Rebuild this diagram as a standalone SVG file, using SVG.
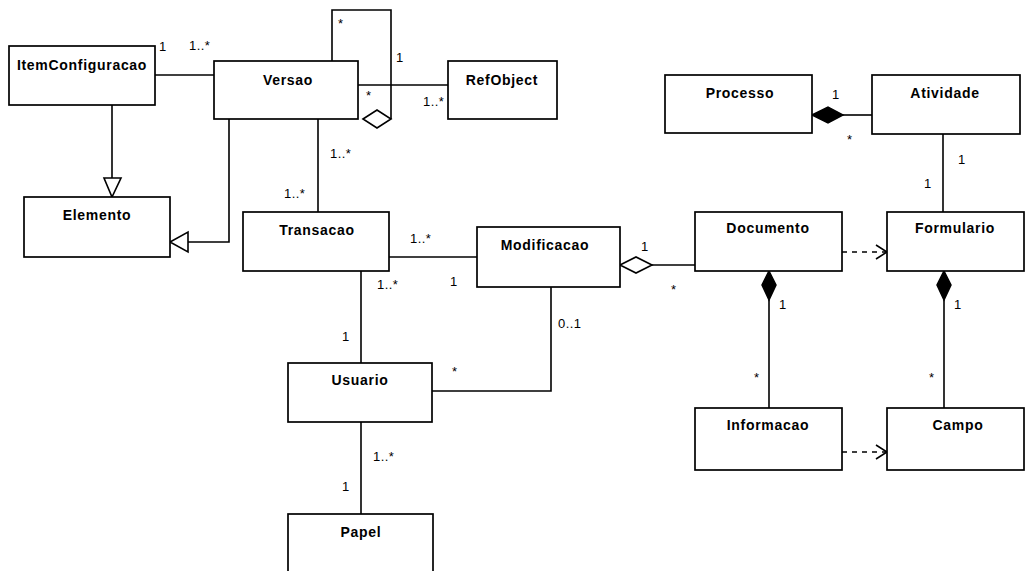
<svg xmlns="http://www.w3.org/2000/svg" width="1029" height="571" viewBox="0 0 1029 571">
  <style>
    .box { fill: #fff; stroke: #000; stroke-width: 1.7; }
    .name { font-family: "Liberation Sans", Arial, sans-serif; font-size: 14px; font-weight: bold; text-anchor: middle; letter-spacing: 0.7px; fill: #000; }
    .edge { fill: none; stroke: #000; stroke-width: 1.6; }
    .dash { fill: none; stroke: #000; stroke-width: 1.5; stroke-dasharray: 5 5; }
    .hollow { fill: #fff; stroke: #000; stroke-width: 1.6; }
    .solid { fill: #000; stroke: #000; stroke-width: 1.5; }
    .mult { font-family: "Liberation Sans", Arial, sans-serif; font-size: 13px; letter-spacing: 0.4px; fill: #000; }
  </style>
  <rect width="1029" height="571" fill="#fff"/>

  <!-- associations, generalizations and dependencies -->
  <g id="connectors">
    <!-- ItemConfiguracao - Versao -->
    <line class="edge" x1="155" y1="75" x2="214" y2="75"/>
    <text class="mult" x="159" y="51">1</text>
    <text class="mult" x="189" y="50">1..*</text>

    <!-- Versao self aggregation -->
    <polyline class="edge" points="332,61 332,10 391,10 391,119"/>
    <polygon class="hollow" points="363,119 377,110 391,119 377,128"/>
    <text class="mult" x="338" y="28">*</text>
    <text class="mult" x="396" y="62">1</text>
    <text class="mult" x="366" y="100">*</text>

    <!-- Versao - RefObject -->
    <line class="edge" x1="358" y1="85" x2="448" y2="85"/>
    <text class="mult" x="423" y="106">1..*</text>

    <!-- ItemConfiguracao generalizes Elemento -->
    <line class="edge" x1="112" y1="105" x2="112" y2="178"/>
    <polygon class="hollow" points="104,178 121,178 112,197"/>

    <!-- Versao generalizes Elemento -->
    <polyline class="edge" points="229,119 229,242 188,242"/>
    <polygon class="hollow" points="188,232 188,252 170,242"/>

    <!-- Versao - Transacao -->
    <line class="edge" x1="318" y1="119" x2="318" y2="212"/>
    <text class="mult" x="330" y="158">1..*</text>
    <text class="mult" x="284" y="198">1..*</text>

    <!-- Transacao - Modificacao -->
    <line class="edge" x1="389" y1="257" x2="477" y2="257"/>
    <text class="mult" x="410" y="243">1..*</text>
    <text class="mult" x="450" y="286">1</text>

    <!-- Modificacao aggregates Documento -->
    <polygon class="hollow" points="620,265 636,257 652,265 636,273"/>
    <line class="edge" x1="652" y1="265" x2="695" y2="265"/>
    <text class="mult" x="641" y="251">1</text>
    <text class="mult" x="671" y="294">*</text>

    <!-- Transacao - Usuario -->
    <line class="edge" x1="361" y1="271" x2="361" y2="363"/>
    <text class="mult" x="377" y="289">1..*</text>
    <text class="mult" x="342" y="341">1</text>

    <!-- Modificacao - Usuario -->
    <polyline class="edge" points="551,287 551,391 432,391"/>
    <text class="mult" x="558" y="328">0..1</text>
    <text class="mult" x="452" y="376">*</text>

    <!-- Usuario - Papel -->
    <line class="edge" x1="361" y1="422" x2="361" y2="514"/>
    <text class="mult" x="373" y="461">1..*</text>
    <text class="mult" x="342" y="491">1</text>

    <!-- Processo composes Atividade -->
    <polygon class="solid" points="812,115 828,107 843,115 828,123"/>
    <line class="edge" x1="843" y1="115" x2="872" y2="115"/>
    <text class="mult" x="832" y="99">1</text>
    <text class="mult" x="847" y="144">*</text>

    <!-- Atividade - Formulario -->
    <line class="edge" x1="943" y1="134" x2="943" y2="212"/>
    <text class="mult" x="958" y="164">1</text>
    <text class="mult" x="924" y="188">1</text>

    <!-- Documento depends on Formulario -->
    <line class="dash" x1="842" y1="252" x2="886" y2="252"/>
    <polyline class="edge" points="876,245 887,252 876,259"/>

    <!-- Documento composes Informacao -->
    <polygon class="solid" points="769,271 776,285 769,300 762,285"/>
    <line class="edge" x1="769" y1="300" x2="769" y2="408"/>
    <text class="mult" x="779" y="309">1</text>
    <text class="mult" x="754" y="382">*</text>

    <!-- Formulario composes Campo -->
    <polygon class="solid" points="944,271 951,285 944,300 937,285"/>
    <line class="edge" x1="944" y1="300" x2="944" y2="408"/>
    <text class="mult" x="954" y="309">1</text>
    <text class="mult" x="929" y="382">*</text>

    <!-- Informacao depends on Campo -->
    <line class="dash" x1="842" y1="452" x2="886" y2="452"/>
    <polyline class="edge" points="876,445 887,452 876,459"/>
  </g>

  <!-- classes -->
  <g id="ItemConfiguracao">
    <rect class="box" x="9" y="46" width="146" height="59"/>
    <text class="name" x="82" y="70">ItemConfiguracao</text>
  </g>
  <g id="Versao">
    <rect class="box" x="214" y="61" width="144" height="58"/>
    <text class="name" x="288" y="85">Versao</text>
  </g>
  <g id="RefObject">
    <rect class="box" x="448" y="61" width="109" height="58"/>
    <text class="name" x="502" y="85">RefObject</text>
  </g>
  <g id="Processo">
    <rect class="box" x="665" y="75" width="147" height="58"/>
    <text class="name" x="740" y="98">Processo</text>
  </g>
  <g id="Atividade">
    <rect class="box" x="872" y="75" width="148" height="59"/>
    <text class="name" x="945" y="98">Atividade</text>
  </g>
  <g id="Elemento">
    <rect class="box" x="24" y="197" width="146" height="60"/>
    <text class="name" x="97" y="220">Elemento</text>
  </g>
  <g id="Transacao">
    <rect class="box" x="243" y="212" width="146" height="59"/>
    <text class="name" x="317" y="235">Transacao</text>
  </g>
  <g id="Modificacao">
    <rect class="box" x="477" y="227" width="143" height="60"/>
    <text class="name" x="545" y="250">Modificacao</text>
  </g>
  <g id="Documento">
    <rect class="box" x="695" y="212" width="147" height="59"/>
    <text class="name" x="768" y="233">Documento</text>
  </g>
  <g id="Formulario">
    <rect class="box" x="887" y="212" width="137" height="59"/>
    <text class="name" x="955" y="233">Formulario</text>
  </g>
  <g id="Usuario">
    <rect class="box" x="288" y="363" width="144" height="59"/>
    <text class="name" x="360" y="385">Usuario</text>
  </g>
  <g id="Informacao">
    <rect class="box" x="695" y="408" width="147" height="62"/>
    <text class="name" x="768" y="430">Informacao</text>
  </g>
  <g id="Campo">
    <rect class="box" x="887" y="408" width="137" height="62"/>
    <text class="name" x="958" y="430">Campo</text>
  </g>
  <g id="Papel">
    <rect class="box" x="288" y="514" width="145" height="70"/>
    <text class="name" x="361" y="537">Papel</text>
  </g>
</svg>
